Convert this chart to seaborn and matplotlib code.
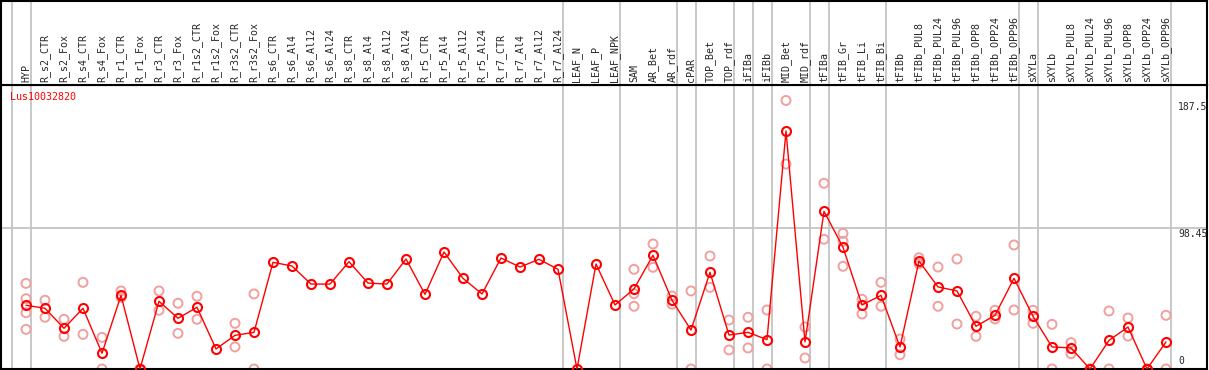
import numpy as np
import pandas as pd
import matplotlib
matplotlib.use("Agg")
import matplotlib.pyplot as plt
import seaborn as sns

samples = [
    "HYP", "R_s2_CTR", "R_s2_Fox", "R_s4_CTR", "R_s4_Fox", "R_r1_CTR", "R_r1_Fox",
    "R_r3_CTR", "R_r3_Fox", "R_r1s2_CTR", "R_r1s2_Fox", "R_r3s2_CTR", "R_r3s2_Fox",
    "R_s6_CTR", "R_s6_Al4", "R_s6_Al12", "R_s6_Al24", "R_s8_CTR", "R_s8_Al4",
    "R_s8_Al12", "R_s8_Al24", "R_r5_CTR", "R_r5_Al4", "R_r5_Al12", "R_r5_Al24",
    "R_r7_CTR", "R_r7_Al4", "R_r7_Al12", "R_r7_Al24", "LEAF_N", "LEAF_P", "LEAF_NPK",
    "SAM", "AR_Bet", "AR_rdf", "cPAR", "TOP_Bet", "TOP_rdf", "iFIBa", "iFIBb",
    "MID_Bet", "MID_rdf", "tFIBa", "tFIB_Gr", "tFIB_Li", "tFIB_Bi", "tFIBb",
    "tFIBb_PUL8", "tFIBb_PUL24", "tFIBb_PUL96", "tFIBb_OPP8", "tFIBb_OPP24",
    "tFIBb_OPP96", "sXYLa", "sXYLb", "sXYLb_PUL8", "sXYLb_PUL24", "sXYLb_PUL96",
    "sXYLb_OPP8", "sXYLb_OPP24", "sXYLb_OPP96",
]

means = [
    44.5, 42.4, 28.4, 42.4, 11.0, 51.4, 0.0, 47.3, 35.4, 43.1, 14.0, 23.5, 25.6,
    74.5, 71.9, 59.3, 59.3, 74.9, 60.0, 59.3, 76.8, 52.1, 81.7, 63.3, 52.4,
    77.5, 71.2, 76.6, 69.6, 0.0, 73.3, 44.7,
    55.9, 79.4, 48.0, 27.2, 67.5, 23.7, 25.6, 20.5, 166.2, 18.9, 110.1, 85.0,
    44.7, 51.4, 15.4, 75.4, 57.3, 54.5, 29.8, 37.5, 63.3, 36.8, 15.4, 14.7,
    0.0, 20.0, 29.3, 0.0, 18.9,
]

replicates = [
    [59.8, 49.1, 39.3, 27.7], [48.0, 36.1], [34.7, 22.8], [60.5, 24.2], [22.1, 0.0],
    [54.5, 50.0], [0.0, 0.0], [54.5, 41.0], [45.9, 24.9], [50.8, 34.7], [], [31.9, 15.4],
    [52.4, 0.0], [], [], [], [], [], [], [], [], [], [], [], [], [], [], [], [], [], [], [],
    [69.6, 52.6, 43.8], [87.3, 71.0], [51.0, 45.2], [54.5, 0.0], [78.9, 57.0],
    [34.2, 13.3], [36.1, 14.7], [41.2, 0.0], [187.5, 143.1], [29.3, 7.7],
    [129.7, 90.6], [94.7, 89.2, 71.7], [48.7, 38.4], [60.5, 43.8], [20.9, 10.0],
    [77.7, 73.5], [71.2, 43.8], [76.8, 31.4], [36.8, 22.8], [41.0, 34.9], [86.6, 41.2],
    [41.0, 31.9], [31.2, 0.0], [18.4, 10.7], [0.0, 0.0], [40.5, 0.0], [35.6, 23.0],
    [0.0, 0.0], [37.5, 0.0],
]

# index of the last sample in each group (separator drawn just after it)
group_ends = [-1, 0, 28, 31, 34, 35, 37, 38, 39, 41, 42, 45, 52, 53, 60]
y_ticks = [0, 98.45, 187.5]
gene = "Lus10032820"

W, H = 1209, 370
sns.set_style("white")
plt.rcParams["font.family"] = ["DejaVu Sans Mono", "DejaVu Sans"]

idx = np.arange(len(samples))
mean_df = pd.DataFrame({"pos": idx, "value": means})
rep_df = pd.DataFrame(
    [(i, v) for i, reps in enumerate(replicates) for v in reps], columns=["pos", "value"]
)

fig = plt.figure(figsize=(W / 100, H / 100), dpi=100)
ax = fig.add_axes([1 / W, 1 / H, 1206 / W, 284 / H])
hax = fig.add_axes([1 / W, 285 / H, 1206 / W, 84.5 / H])

xlim = ((1 - 26) / 19, (1207 - 26) / 19)
for a in (ax, hax):
    a.set_xlim(*xlim)
    a.set_xticks([])
    a.set_yticks([])
    for s in a.spines.values():
        s.set_color("black")
        s.set_linewidth(1.5)
    for g in group_ends:
        a.axvline(g + 0.25, color="#c4c4c4", lw=1.3, zorder=0)

ax.set_ylim(0, 284 / 1.4322)
hax.set_ylim(0, 84.5)

ax.axhline(98.45, color="#c4c4c4", lw=1.3, zorder=0)

sns.scatterplot(data=rep_df, x="pos", y="value", ax=ax, marker="o", s=42,
                facecolors="none", edgecolors="#f0a0a0", linewidths=1.4,
                legend=False, zorder=2)
sns.lineplot(data=mean_df, x="pos", y="value", ax=ax, color="red", lw=1,
             marker="o", ms=6.5, mfc="none", mec="red", mew=1.5,
             legend=False, zorder=3)
ax.set_xlabel("")
ax.set_ylabel("")

for i, name in enumerate(samples):
    hax.text(i, 3, name, rotation=90, ha="center", va="bottom", fontsize=7.2)

ax.text((10 - 26) / 19, 284 / 1.4322 - 5, gene, color="red", fontsize=7.2,
        ha="left", va="top")

xt = (1178 - 26) / 19
ax.annotate("187.5", (xt, y_ticks[2]), xytext=(0, -2), textcoords="offset pixels",
            ha="left", va="top", fontsize=7)
ax.annotate("98.45", (xt, y_ticks[1]), xytext=(0, -1), textcoords="offset pixels",
            ha="left", va="top", fontsize=7)
ax.annotate("0", (xt, y_ticks[0]), xytext=(0, 3), textcoords="offset pixels",
            ha="left", va="bottom", fontsize=7)

fig.savefig("out.png", dpi=100)
